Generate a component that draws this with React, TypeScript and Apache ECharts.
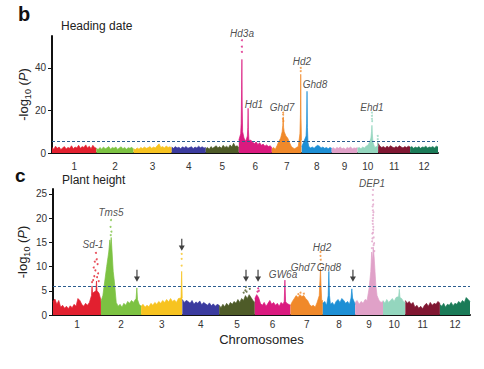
import React, { useEffect, useRef } from 'react';
import * as echarts from 'echarts';

type Pt = [number, number];

const chromosomes = ['1', '2', '3', '4', '5', '6', '7', '8', '9', '10', '11', '12'];
const chromLengths = [43, 36, 37, 33, 32, 32, 29, 29, 25, 20, 31, 27];
const chromColors = ['#e2202f', '#7cc242', '#f7c320', '#3b3b9f', '#4e5b28', '#da1a7f', '#f0892a', '#1d8fd5', '#e0a1c8', '#94d6be', '#801732', '#1b7b58'];

// ---- Heading date (panel b) ----
const headingThreshold = 5.6;
const headingBase: number[][] = [
  [2.6, 1.8, 3.2, 2.2, 2.8, 1.6, 2.4, 3.0, 1.9, 2.6, 2.2, 3.4, 2.0, 2.8, 2.4, 3.6, 2.2, 3.0, 2.6, 3.8, 2.4, 3.2, 2.0, 3.6, 2.6, 2.2],
  [2.2, 1.6, 2.6, 1.8, 2.8, 2.0, 2.4, 3.0, 1.8, 2.6, 2.2, 2.8, 1.7, 2.4, 2.9, 2.0, 2.6, 1.8, 2.5, 2.2, 2.7, 1.8],
  [2.0, 1.6, 2.4, 1.8, 2.6, 2.1, 2.8, 2.2, 2.5, 3.0, 2.2, 2.8, 2.4, 3.4, 4.3, 2.6, 3.0, 2.4, 3.3, 2.6, 2.9, 2.4],
  [2.8, 2.2, 3.0, 2.4, 2.7, 2.0, 2.9, 2.4, 3.1, 2.2, 2.6, 2.9, 2.1, 2.8, 2.4, 3.2, 2.5, 2.9, 2.3, 2.6],
  [2.0, 2.6, 1.8, 3.0, 2.2, 2.8, 3.4, 2.4, 3.0, 2.2, 3.6, 2.6, 3.2, 2.4, 3.8, 2.8, 4.6, 3.0, 3.4, 2.6],
  [6, 9, 10, 7, 5.5, 6, 8, 6, 5, 4.5, 5.2, 4, 4.8, 3.6, 4.2, 3.2, 3.8, 3, 3.4, 2.6],
  [2.0, 2.6, 1.8, 3.5, 5.5, 7, 8.5, 9, 8, 7, 5, 3.2, 2.4, 2.0, 2.6, 3, 5, 4],
  [3, 5, 6, 4, 3, 2.4, 2.8, 2.2, 3.0, 3.6, 3.2, 2.4, 2.8, 2.2, 2.6, 2.0, 2.6, 2.2],
  [2.0, 2.5, 1.8, 2.6, 2.2, 2.8, 2.0, 2.4, 1.8, 2.6, 2.2, 2.8, 2.0, 2.4, 2.2, 2.6],
  [2.2, 2.6, 2.0, 2.8, 2.4, 3.2, 3.6, 5, 6, 5, 2.6, 3, 2.4],
  [4.5, 3.2, 2.6, 3.0, 2.4, 3.2, 2.6, 3.4, 2.8, 2.4, 3.0, 2.6, 3.4, 2.8, 2.4, 3.0, 2.6, 3.2, 2.8],
  [2.6, 3.0, 2.2, 2.8, 2.4, 3.0, 2.2, 2.8, 2.6, 3.2, 2.4, 2.8, 2.6, 3.0, 2.4, 3.2, 2.8],
];
const headingPeaks: Pt[][] = [
  [], [], [], [], [],
  [[1.8, 9], [2.3, 14], [2.7, 30], [3.0, 44], [3.3, 22], [3.7, 10], [8.3, 8], [8.7, 12], [9.0, 21], [9.3, 11], [9.8, 6]],
  [[10, 10], [10.6, 13], [11, 17], [11.4, 12], [12, 10], [27.2, 9], [27.7, 18], [28, 37], [28.3, 16], [28.7, 6]],
  [[4.2, 8], [4.7, 14], [5.1, 29], [5.5, 12], [6, 5]],
  [],
  [[13, 7], [13.6, 10], [14, 13], [14.4, 9], [15, 5], [19.3, 3], [19.6, 5.5], [19.9, 3]],
  [], [],
];
const headingDots: Pt[][] = [
  [], [], [], [], [],
  [[3, 53], [3, 50], [3, 47.5]],
  [[11, 19], [11, 18], [10.8, 16], [11.2, 15], [28, 40], [28, 38.5]],
  [],
  [],
  [[14, 19], [14, 17.5], [14, 16], [14.2, 15], [19.6, 8], [19.6, 6.5]],
  [], [],
];
const headingGenes: { name: string; chrom: number; pos: number; y: number }[] = [
  { name: 'Hd3a', chrom: 6, pos: 3.1, y: 56 },
  { name: 'Hd1', chrom: 6, pos: 14.7, y: 22.6 },
  { name: 'Ghd7', chrom: 7, pos: 9.9, y: 21.2 },
  { name: 'Hd2', chrom: 7, pos: 29.2, y: 42.8 },
  { name: 'Ghd8', chrom: 8, pos: 12.8, y: 32 },
  { name: 'Ehd1', chrom: 10, pos: 14, y: 21.2 },
];

// ---- Plant height (panel c) ----
const heightThreshold = 6;
const heightBase: number[][] = [
  [2.8, 3.3, 2.2, 3.0, 1.6, 2.0, 1.4, 1.8, 1.3, 1.9, 1.5, 2.2, 1.8, 3.4, 3.0, 2.2, 1.8, 2.4, 2.0, 2.6, 4.0, 5.2, 6.2, 6.0, 4.5, 3.0],
  [2.8, 4, 7, 10, 13, 15, 14, 7, 2.6, 1.8, 2.2, 1.6, 2.4, 2.0, 2.8, 2.4, 3.0, 2.6, 3.2, 4, 2.2, 1.8],
  [1.8, 2.2, 1.6, 2.0, 1.7, 2.4, 2.0, 2.6, 2.2, 2.8, 2.4, 3.0, 2.6, 3.2, 2.7, 3.4, 2.8, 3.1, 2.6, 3.4, 3.0, 3.2],
  [3.2, 2.6, 3.0, 2.8, 2.4, 3.0, 2.2, 2.7, 2.4, 2.9, 2.1, 2.6, 2.3, 2.0, 2.5, 1.9, 2.3, 1.8, 2.2, 2.0],
  [2.0, 1.5, 2.2, 1.7, 2.4, 1.9, 2.6, 2.2, 2.8, 2.4, 3.2, 2.6, 3.4, 3.0, 4.0, 3.4, 4.2, 3.6, 3.0, 2.6],
  [3.4, 4.2, 3.6, 2.4, 2.0, 2.6, 1.8, 2.4, 3.0, 2.2, 2.6, 2.0, 2.4, 1.8, 2.6, 2.2, 2.8, 2.4, 2.2, 2.0],
  [2.0, 2.8, 3.4, 4.0, 3.6, 4.2, 3.8, 4.0, 3.4, 3.0, 2.2, 1.8, 2.0, 1.6, 2.6, 3.4, 5, 3],
  [2.4, 2.8, 2.0, 2.6, 2.2, 2.6, 2.0, 2.8, 3.2, 2.6, 3.4, 3.0, 2.4, 2.8, 2.2, 3.6, 4, 2.2],
  [2.6, 3.0, 2.2, 2.8, 2.4, 3.2, 3.0, 5.5, 9, 12, 9, 4, 3.0, 2.6, 2.8],
  [3.0, 2.4, 3.2, 2.6, 3.0, 3.4, 2.8, 3.6, 4.0, 5, 3.4, 2.8, 2.6],
  [3.0, 2.4, 2.8, 2.2, 2.6, 1.6, 2.0, 1.4, 1.8, 1.3, 2.0, 2.4, 1.8, 2.6, 2.0, 2.4, 2.2, 2.8, 2.4],
  [2.2, 1.8, 2.4, 1.6, 2.2, 2.0, 2.6, 1.9, 2.4, 2.2, 2.8, 2.4, 3.0, 2.6, 3.6, 3.2, 2.8],
];
const heightPeaks: Pt[][] = [
  [[34.5, 4], [35, 6], [35.5, 4.5], [38.5, 5], [39, 7], [39.5, 5]],
  [[7, 13], [8, 15.5], [8.6, 14], [9.2, 16], [10, 13], [11, 9], [31.5, 3.4], [32.2, 5.6], [32.8, 3.2]],
  [[35.8, 3.5], [36.4, 9], [36.9, 3.5]],
  [],
  [],
  [[26.4, 2.8], [27, 7.2], [27.6, 2.8]],
  [[25.8, 4], [26.4, 7], [26.9, 9.5], [27.4, 6], [28, 3]],
  [[4.8, 4], [5.4, 9], [6, 4], [25.3, 3.5], [26, 5.4], [26.7, 3.5]],
  [[14, 9], [14.8, 13], [15.5, 11], [16.2, 14], [17, 12], [17.8, 9], [18.6, 6]],
  [[14, 3.8], [14.6, 5.3], [15.2, 3.6]],
  [],
  [],
];
const heightDots: Pt[][] = [
  [[38.5, 12.8], [39.2, 11.5], [37.5, 11], [40, 10.5], [36.5, 9.8], [38, 9.2], [40.5, 8.6], [37, 8], [39.5, 7.8], [36, 7.2], [41, 7], [35, 6.8]],
  [[9, 19.6], [8.6, 18.2], [9.4, 17.2], [8.8, 16.5]],
  [[36.4, 12.6], [36.4, 11.6], [36.4, 10.2]],
  [],
  [[24, 5.8], [23.5, 5.1], [24.6, 4.8], [27.5, 5.4], [22, 4.6]],
  [[3, 5.5], [2.4, 4.8], [3.6, 5]],
  [[26.9, 13], [26.9, 12.2], [27.1, 11.4], [26.8, 10.5], [9, 4.6], [12, 4.4], [7, 4.3]],
  [],
  [[16, 25.8], [16, 23.7], [15.6, 22.4], [16.4, 21.2], [16, 20], [15.8, 18.8], [16.2, 17.6], [15.4, 16.8], [16.6, 16], [15.2, 15.2], [17, 14.8],
   [15.8, 24.8], [16.2, 22.8], [15.9, 21.6], [16.1, 20.6], [15.7, 19.4], [16.3, 18.2], [16, 17], [15.5, 15.8], [16.5, 14.4], [15, 13.8], [17.2, 13.2]],
  [[14.6, 5.8]],
  [],
  [],
];
const heightGenes: { name: string; chrom: number; pos: number; y: number }[] = [
  { name: 'Sd-1', chrom: 1, pos: 35.9, y: 14.5 },
  { name: 'Tms5', chrom: 2, pos: 9, y: 21.1 },
  { name: 'GW6a', chrom: 6, pos: 25.3, y: 8.3 },
  { name: 'Ghd7', chrom: 7, pos: 11.2, y: 9.9 },
  { name: 'Hd2', chrom: 7, pos: 28.3, y: 14 },
  { name: 'Ghd8', chrom: 8, pos: 5.5, y: 9.9 },
  { name: 'DEP1', chrom: 9, pos: 15.1, y: 27.1 },
];
const heightArrows: { chrom: number; pos: number; y: number }[] = [
  { chrom: 2, pos: 32.3, y: 8.1 },
  { chrom: 3, pos: 36.5, y: 14.5 },
  { chrom: 5, pos: 24.1, y: 8.1 },
  { chrom: 6, pos: 2.9, y: 8.1 },
  { chrom: 8, pos: 27, y: 8.1 },
];

const FONT = 'Liberation Sans, Arial, sans-serif';

const offsets: number[] = [];
chromLengths.reduce((acc, l, i) => { offsets[i] = acc; return acc + l; }, 0);
const totalLength = chromLengths.reduce((a, b) => a + b, 0);
const centers = chromLengths.map((l, i) => offsets[i] + l / 2);

function buildPanel(base: number[][], peaks: Pt[][], dots: Pt[][], idx: number, threshold: number) {
  const series: any[] = [];
  base.forEach((vals, c) => {
    const L = chromLengths[c];
    const step = L / (vals.length - 1);
    const pk = peaks[c];
    const pts: Pt[] = [];
    vals.forEach((v, i) => {
      const x = i * step;
      if (pk.some((p) => Math.abs(p[0] - x) < 0.8)) return;
      pts.push([x, v]);
    });
    pk.forEach((p) => pts.push([p[0], p[1]]));
    pts.sort((a, b) => a[0] - b[0]);
    const data = pts.map((p) => [offsets[c] + p[0], p[1]]);
    const s: any = {
      type: 'line',
      xAxisIndex: idx,
      yAxisIndex: idx,
      data,
      showSymbol: false,
      symbol: 'none',
      lineStyle: { width: 0.7, color: chromColors[c] },
      areaStyle: { color: chromColors[c], opacity: 1 },
      z: 3,
    };
    if (c === 0) {
      s.markLine = {
        silent: true,
        symbol: 'none',
        label: { show: false },
        lineStyle: { type: [3, 2], color: '#2c5d8f', width: 1 },
        data: [{ yAxis: threshold }],
        z: 5,
      };
    }
    series.push(s);
    if (dots[c].length) {
      series.push({
        type: 'scatter',
        xAxisIndex: idx,
        yAxisIndex: idx,
        data: dots[c].map((p) => [offsets[c] + p[0], p[1]]),
        symbolSize: 2,
        itemStyle: { color: chromColors[c] },
        z: 4,
      });
    }
  });
  return series;
}

function geneSeries(genes: { name: string; chrom: number; pos: number; y: number }[], idx: number) {
  return {
    type: 'scatter',
    xAxisIndex: idx,
    yAxisIndex: idx,
    clip: false,
    symbolSize: 1,
    itemStyle: { color: 'rgba(0,0,0,0)' },
    data: genes.map((g) => ({ name: g.name, value: [offsets[g.chrom - 1] + g.pos, g.y] })),
    label: {
      show: true,
      position: 'inside',
      formatter: (p: any) => p.name,
      fontStyle: 'italic',
      fontSize: 10,
      color: '#222',
      fontFamily: FONT,
    },
    z: 6,
  };
}

function makeYAxis(idx: number, max: number, ticks: number[], gap: number) {
  return {
    type: 'value',
    gridIndex: idx,
    min: 0,
    max,
    name: '-log{s|10} ({i|P})',
    nameLocation: 'middle',
    nameGap: gap,
    nameMoveOverlap: false,
    nameTextStyle: {
      fontSize: 13,
      color: '#222',
      fontFamily: FONT,
      rich: {
        s: { fontSize: 9, color: '#222', fontFamily: FONT, padding: [8, 0, 0, 0] },
        i: { fontSize: 13, fontStyle: 'italic', color: '#222', fontFamily: FONT },
      },
    },
    axisLine: { show: true, lineStyle: { color: '#111', width: 2 } },
    axisTick: { show: true, length: 4, customValues: ticks, lineStyle: { color: '#111', width: 1 } },
    axisLabel: { customValues: ticks, fontSize: 10, color: '#333', fontFamily: FONT, margin: 6 },
    splitLine: { show: false },
  };
}

function makeXAxis(idx: number, margin: number, withName: boolean) {
  return {
    type: 'value',
    gridIndex: idx,
    min: 0,
    max: totalLength,
    name: withName ? 'Chromosomes' : '',
    nameLocation: 'middle',
    nameGap: 18,
    nameMoveOverlap: false,
    nameTextStyle: { fontSize: 13, color: '#222', fontFamily: FONT },
    axisLine: { show: true, onZero: false, lineStyle: { color: '#111', width: 2 } },
    axisTick: { show: false },
    axisLabel: {
      customValues: centers,
      fontSize: 10,
      color: '#333',
      fontFamily: FONT,
      margin,
      formatter: (v: number) => {
        const i = centers.findIndex((c) => Math.abs(c - v) < 1e-6);
        return i >= 0 ? chromosomes[i] : '';
      },
    },
    splitLine: { show: false },
  };
}

export default function App() {
  const ref = useRef<HTMLDivElement>(null);
  useEffect(() => {
    if (!ref.current) return;
    const chart = echarts.init(ref.current, undefined, { renderer: 'svg' });
    const arrowPath = 'path://M4,0 L6,0 L6,10 L10,10 L5,18 L0,10 L4,10 Z';
    const option: any = {
      animation: false,
      backgroundColor: '#fff',
      grid: [
        { left: 52, top: 36, width: 386, height: 117 },
        { left: 53, top: 189, width: 417, height: 126 },
      ],
      xAxis: [makeXAxis(0, 8, false), makeXAxis(1, 4, true)],
      yAxis: [makeYAxis(0, 55, [0, 20, 40], 20), makeYAxis(1, 26, [0, 5, 10, 15, 20, 25], 22)],
      graphic: [
        { type: 'text', left: 18, top: 4, style: { text: 'b', fontSize: 20, fontWeight: 'bold', fill: '#111', fontFamily: FONT } },
        { type: 'text', left: 61, top: 20, style: { text: 'Heading date', fontSize: 12, fill: '#222', fontFamily: FONT } },
        { type: 'text', left: 15, top: 166, style: { text: 'c', fontSize: 19, fontWeight: 'bold', fill: '#111', fontFamily: FONT } },
        { type: 'text', left: 62, top: 174, style: { text: 'Plant height', fontSize: 12, fill: '#222', fontFamily: FONT } },
      ],
      series: [
        ...buildPanel(headingBase, headingPeaks, headingDots, 0, headingThreshold),
        geneSeries(headingGenes, 0),
        ...buildPanel(heightBase, heightPeaks, heightDots, 1, heightThreshold),
        geneSeries(heightGenes, 1),
        {
          type: 'scatter',
          xAxisIndex: 1,
          yAxisIndex: 1,
          clip: false,
          symbol: arrowPath,
          symbolSize: [6, 12],
          itemStyle: { color: '#111' },
          data: heightArrows.map((a) => [offsets[a.chrom - 1] + a.pos, a.y]),
          z: 6,
        },
      ],
    };
    chart.setOption(option);
    return () => chart.dispose();
  }, []);
  return <div ref={ref} style={{ position: 'fixed', left: 0, top: 0, width: 484, height: 369, background: '#fff' }} />;
}
